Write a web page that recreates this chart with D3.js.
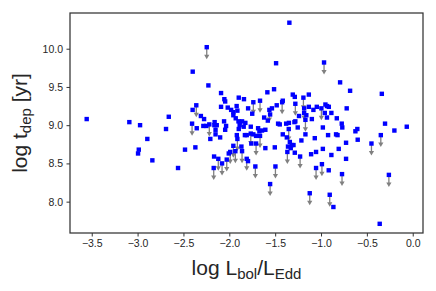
<!DOCTYPE html>
<html><head><meta charset="utf-8">
<script src="https://cdn.jsdelivr.net/npm/d3@7"></script>
<style>body{margin:0;background:#fff}svg{display:block}text{font-family:"Liberation Sans",Arial,sans-serif}</style>
</head><body>
<svg id="c" width="436" height="291"></svg>
<script>
// detections (x = log Lbol/LEdd, y = log tdep)
const detX = [-3.555,-3.09,-2.973,-2.894,-2.987,-2.995,-2.839,-2.66,-2.69,-2.559,-2.483,-2.37,-2.399,-2.228,-2.09,-2.054,-2.045,-2.40,-2.09,-2.017,-1.92,-1.912,-1.956,-1.956,-2.31,-2.275,-2.057,-1.883,-2.355,-2.283,-2.25,-2.163,-2.137,-2.15,-2.15,-2.207,-2.10,-2.045,-2.035,-2.166,-2.006,-1.918,-1.897,-1.345,-1.49,-0.792,-0.683,-0.337,-1.585,-1.512,-1.897,-1.84,-1.308,-1.286,-1.133,-0.72,-0.935,-1.133,-1.083,-1.046,-0.952,-0.959,-0.915,-0.887,-1.184,-1.16,-1.535,-1.483,-0.828,-0.774,-0.768,-0.302,-0.065,-0.20,-0.604,-0.625,-0.98,-0.935,-0.60,-0.36,-0.727,-0.727,-0.865,-0.916,-0.887,-0.807,-0.98,-1.054,-1.108,-1.068,-0.923,-0.836,-0.82,-1.17,-1.214,-1.286,-1.34,-1.32,-1.36,-1.30,-1.33,-1.254,-1.38,-1.35,-1.29,-1.28,-1.417,-1.373,-1.468,-1.45,-1.504,-1.607,-1.796,-1.76,-1.868,-1.83,-1.81,-1.766,-1.686,-1.672,-1.643,-1.607,-1.708,-1.738,-1.90,-1.861,-1.825,-1.887,-1.843,-1.93,-2.16,-1.795,-1.555,-1.417,-1.62,-1.58,-1.24,-1.10,-1.75,-1.98];
const detY = [9.08,9.04,9.00,8.82,8.68,8.63,8.54,9.11,8.95,8.44,8.68,8.71,9.70,9.52,9.42,9.34,9.31,9.20,9.24,9.23,9.25,9.19,9.17,9.13,9.12,9.08,9.05,9.04,8.96,8.99,8.99,9.00,9.00,8.94,8.88,8.82,8.84,8.94,8.99,8.59,8.63,8.87,8.95,10.34,9.81,9.56,9.45,9.41,9.43,9.47,9.36,9.34,9.40,9.37,9.40,9.22,9.25,9.24,9.20,9.24,9.27,9.16,9.24,9.16,9.16,9.13,9.22,9.26,9.09,9.02,8.97,9.02,8.98,8.93,8.95,8.92,8.97,9.10,8.81,7.71,8.77,8.56,7.93,8.41,8.61,8.69,8.69,8.65,8.62,8.83,8.87,8.88,8.87,8.88,8.80,8.64,8.78,8.74,8.72,8.74,8.70,8.97,9.02,9.03,9.04,9.05,8.88,8.84,9.02,9.01,8.71,8.70,8.53,8.76,8.72,8.87,8.87,8.98,8.96,8.92,8.93,8.94,8.86,8.88,9.05,9.05,9.03,9.00,8.98,9.09,9.04,9.22,9.14,9.32,9.10,9.06,9.12,9.08,9.15,9.20];
// upper limits
const limX = [-2.246,-2.36,-2.406,-2.218,-2.12,-2.17,-2.079,-2.028,-1.956,-1.912,-1.99,-0.967,-1.192,-1.738,-1.665,-1.424,-1.28,-0.996,-1.563,-1.184,-0.348,-0.45,-0.26,-0.771,-0.905,-1.123,-0.99,-1.054,-1.228,-1.367,-1.352,-1.497,-1.555,-1.716,-1.81,-1.861,-1.766,-1.665,-1.708,-1.934,-1.17];
const limY = [10.02,9.26,9.02,9.01,8.56,8.44,8.50,8.55,8.73,8.82,8.65,9.82,9.36,9.30,9.32,9.30,9.28,9.22,9.20,9.22,8.87,8.76,8.35,8.36,8.09,8.11,8.49,8.44,8.59,8.65,8.95,8.46,8.23,8.46,8.56,8.66,8.89,8.86,8.76,8.66,9.07];
const xTicks = [-3.5,-3.0,-2.5,-2.0,-1.5,-1.0,-0.5,0.0];
const yTicks = [8.0,8.5,9.0,9.5,10.0];

const svg = d3.select("#c");
const L=70, R=423, T=13, B=233;
const x = d3.scaleLinear().domain([-3.737,0.112]).range([L,R]);
const y = d3.scaleLinear().domain([7.59,10.467]).range([B,T]);
const fmt = d => d3.format(".1f")(d).replace("-","\u2212");

const xa = svg.append("g").attr("transform",`translate(0,${B})`)
  .call(d3.axisBottom(x).tickValues(xTicks).tickFormat(fmt).tickSize(3.5).tickPadding(3.5));
const ya = svg.append("g").attr("transform",`translate(${L},0)`)
  .call(d3.axisLeft(y).tickValues(yTicks).tickFormat(fmt).tickSize(3.5).tickPadding(3.5));
[xa,ya].forEach(g=>{
  g.select(".domain").remove();
  g.selectAll("line").attr("stroke","#333").attr("stroke-width",1);
  g.selectAll("text").attr("fill","#262626").style("font-size","10.5px").style("font-family","Liberation Sans, Arial, sans-serif");
});

// arrows for upper limits
const lim = limX.map((v,i)=>({x:v,y:limY[i]}));
const ag = svg.append("g");
lim.forEach(d=>{
  const px=x(d.x), py=y(d.y);
  ag.append("line").attr("x1",px).attr("x2",px).attr("y1",py).attr("y2",py+9)
    .attr("stroke","#808080").attr("stroke-width",1.3);
  ag.append("path").attr("d",`M${px-2.6},${py+7.5}L${px+2.6},${py+7.5}L${px},${py+12}Z`).attr("fill","#808080");
});

const pts = detX.map((v,i)=>({x:v,y:detY[i]})).concat(lim);
svg.append("g").selectAll("rect").data(pts).join("rect")
  .attr("x",d=>x(d.x)-2.2).attr("y",d=>y(d.y)-2.2).attr("width",4.4).attr("height",4.4)
  .attr("fill","#0000ff");

svg.append("rect").attr("x",L).attr("y",T).attr("width",R-L).attr("height",B-T)
  .attr("fill","none").attr("stroke","#333").attr("stroke-width",1.25);

// axis labels
const xl = svg.append("text").attr("x",(L+R)/2).attr("y",275).attr("text-anchor","middle")
  .attr("fill","#262626").style("font-size","21px");
xl.append("tspan").text("log L");
xl.append("tspan").text("bol").attr("dy",4).style("font-size","15px");
xl.append("tspan").text("/L").attr("dy",-4);
xl.append("tspan").text("Edd").attr("dy",4).style("font-size","15px");

const yl = svg.append("text").attr("transform",`translate(27,${(T+B)/2}) rotate(-90)`).attr("text-anchor","middle")
  .attr("fill","#262626").style("font-size","21px");
yl.append("tspan").text("log t");
yl.append("tspan").text("dep").attr("dy",4).style("font-size","15px");
yl.append("tspan").text(" [yr]").attr("dy",-4);
</script>
</body></html>
